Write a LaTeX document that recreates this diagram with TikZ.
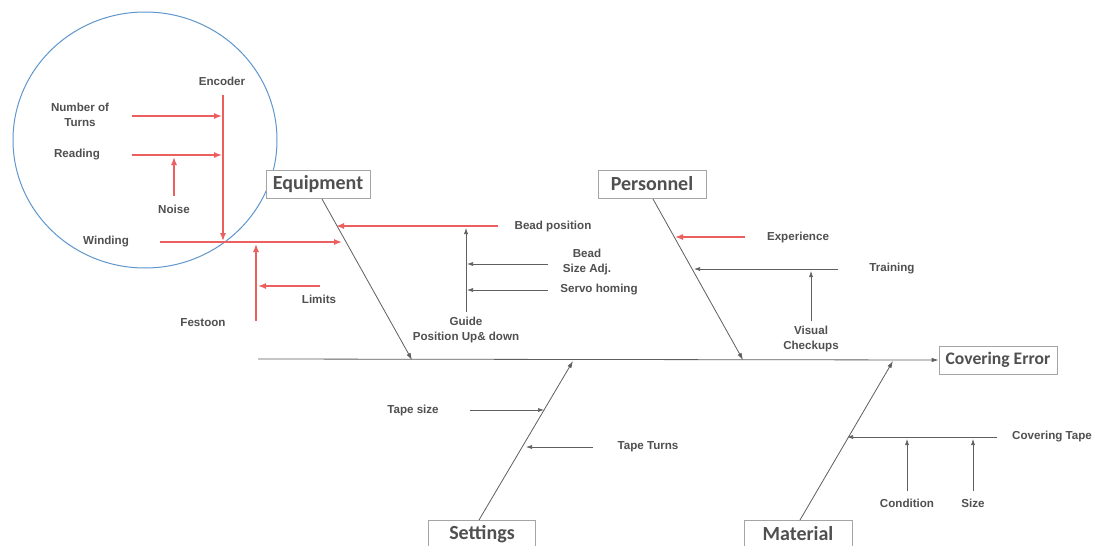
\documentclass[tikz,border=0pt]{standalone}
\usepackage{fontspec}
\setmainfont{Liberation Sans}
\newfontfamily\boxfont{Carlito}
\usetikzlibrary{arrows.meta}
\definecolor{redc}{RGB}{235,95,95}
\definecolor{linegray}{RGB}{95,95,95}
\definecolor{txtgray}{RGB}{80,80,80}
\definecolor{boxgray}{RGB}{165,165,165}
\definecolor{ringblue}{RGB}{95,150,205}
\begin{document}
\begin{tikzpicture}[x=1pt,y=-1pt,
  lbl/.style={font=\bfseries\fontsize{11.6}{15}\selectfont, text=txtgray, align=center, inner sep=1pt},
  catbox/.style={draw=boxgray, line width=0.8pt, fill=white, text=txtgray,
    font=\boxfont\bfseries\fontsize{20}{22}\selectfont, minimum height=28pt, inner xsep=5pt, inner ysep=2pt},
  bone/.style={draw=linegray, line width=0.8pt, -{Latex[length=7pt,width=4.5pt]}},
  twig/.style={draw=linegray, line width=0.6pt, -{Latex[length=6pt,width=4pt]}},
  redarr/.style={draw=redc, line width=1.4pt, -{Latex[length=8pt,width=6pt]}}]
\useasboundingbox (0,0) rectangle (1096,546);
\fill[white] (0,0) rectangle (1096,546);

% zoomed detail ring
\draw[ringblue, line width=1pt] (145,140) ellipse [x radius=132, y radius=128];

% category boxes and effect
\node[catbox, minimum width=104pt] (equip) at (318,184) {Equipment};
\node[catbox, minimum width=108pt] (pers) at (652,184) {Personnel};
\node[catbox, minimum width=118pt, font=\boxfont\bfseries\fontsize{17.6}{20}\selectfont] (effect) at (998,360) {Covering Error};
\node[catbox, minimum width=107pt] (sett) at (482,534) {Settings};
\node[catbox, minimum width=108pt] (mat) at (798,534) {Material};

% spine
\coordinate (spineL) at (258,359);
\draw[bone] (spineL) -- (effect.west);

% main bones
\coordinate (eqEnd) at (412,360);
\coordinate (peEnd) at (743,360);
\coordinate (seEnd) at (573,361);
\coordinate (maEnd) at (893,361);
\draw[bone] (322,199) -- (eqEnd);
\draw[bone] (653,199) -- (peEnd);
\draw[bone] (479,520) -- (seEnd);
\draw[bone] (800,520) -- (maEnd);

% labels
\node[lbl] (encoder) at (222,81) {Encoder};
\node[lbl] (turns) at (80,115) {Number of\\Turns};
\node[lbl] (reading) at (77,155) {Reading};
\node[lbl] (noise) at (174,209) {Noise};
\node[lbl] (winding) at (106,242) {Winding};
\node[lbl] (festoon) at (203,323) {Festoon};
\node[lbl] (limits) at (319,299) {Limits};
\node[lbl] (beadpos) at (553,226) {Bead position};
\node[lbl] (beadsize) at (587,262) {Bead\\Size Adj.};
\node[lbl] (servo) at (599,290) {Servo homing};
\node[lbl] (guide) at (466,330) {Guide\\Position Up\& down};
\node[lbl] (exper) at (798,237) {Experience};
\node[lbl] (train) at (892,269) {Training};
\node[lbl] (visual) at (811,339) {Visual\\Checkups};
\node[lbl] (tapesize) at (413,410) {Tape size};
\node[lbl] (tapeturns) at (648,447) {Tape Turns};
\node[lbl] (covtape) at (1052,437) {Covering Tape};
\node[lbl] (cond) at (907,503) {Condition};
\node[lbl] (size) at (973,503) {Size};

% equipment causes (red highlights)
\coordinate (encTop) at (223,95);
\coordinate (encBot) at (223,241);
\coordinate (turnsA) at (132,116);
\coordinate (turnsB) at (222,116);
\coordinate (readA) at (132,155);
\coordinate (readB) at (222,155);
\coordinate (noiseA) at (174,196);
\coordinate (noiseB) at (174,157);
\coordinate (windA) at (160,242);
\coordinate (windB) at (342,242);
\coordinate (festA) at (256,321);
\coordinate (festB) at (256,244);
\coordinate (limA) at (320,286);
\coordinate (limB) at (258,286);
\coordinate (beadA) at (498,226);
\coordinate (beadB) at (336,226);
\draw[redarr] (encTop) -- (encBot);
\draw[redarr] (turnsA) -- (turnsB);
\draw[redarr] (readA) -- (readB);
\draw[redarr] (noiseA) -- (noiseB);
\draw[redarr] (windA) -- (windB);
\draw[redarr] (festA) -- (festB);
\draw[redarr] (limA) -- (limB);
\draw[redarr] (beadA) -- (beadB);

% guide position branch
\coordinate (guideA) at (466,312);
\coordinate (guideB) at (466,228);
\coordinate (bsA) at (548,264);
\coordinate (bsB) at (467,264);
\coordinate (svA) at (548,290);
\coordinate (svB) at (467,290);
\draw[twig] (guideA) -- (guideB);
\draw[twig] (bsA) -- (bsB);
\draw[twig] (svA) -- (svB);

% personnel causes
\coordinate (expA) at (745,237);
\coordinate (expB) at (675,237);
\coordinate (trA) at (838,269);
\coordinate (trB) at (694,269);
\coordinate (viA) at (811,321);
\coordinate (viB) at (811,271);
\draw[redarr] (expA) -- (expB);
\draw[twig] (trA) -- (trB);
\draw[twig] (viA) -- (viB);

% settings causes
\coordinate (tsA) at (470,410);
\coordinate (tsB) at (544,410);
\coordinate (ttA) at (593,447);
\coordinate (ttB) at (526,447);
\draw[twig] (tsA) -- (tsB);
\draw[twig] (ttA) -- (ttB);

% material causes
\coordinate (ctA) at (997,437);
\coordinate (ctB) at (847,437);
\coordinate (coA) at (907,491);
\coordinate (coB) at (907,439);
\coordinate (szA) at (973,491);
\coordinate (szB) at (973,439);
\draw[twig] (ctA) -- (ctB);
\draw[twig] (coA) -- (coB);
\draw[twig] (szA) -- (szB);
\end{tikzpicture}
\end{document}
